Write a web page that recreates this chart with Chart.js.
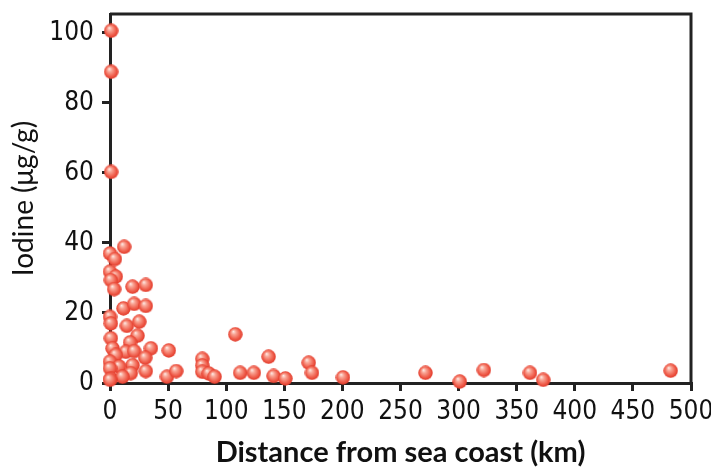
<!DOCTYPE html>
<html>
<head>
<meta charset="utf-8">
<script src="https://cdn.jsdelivr.net/npm/chart.js@4/dist/chart.umd.min.js"></script>
<style>
  html, body { margin: 0; padding: 0; background: #fff; }
  #chart { display: block; }
</style>
</head>
<body>
<canvas id="chart" width="711" height="468"></canvas>
<script>
// Distance from sea coast (km) and iodine (µg/g), one entry per sample
const distanceKm = [
  1, 1, 1, 12.2, 0, 4.2, 0, 5, 0.7, 3.6, 19.4, 30.8, 11.6, 20.8, 30.8,
  0, 0.7, 14.5, 25.2, 0.7, 23.7, 17.3, 2.2, 13.6, 20.8, 35.2, 5, 30.3,
  0, 19.4, 7.9, 0, 30.8, 17.9, 0.7, 10.8, 0, 50.6, 49, 57, 79.4, 79.4,
  79.4, 85, 90, 107.8, 112, 123.8, 136.5, 140.8, 150.9, 171, 173.8,
  200.5, 271.5, 301, 321.7, 361.4, 372.8, 482.5
];
const iodine = [
  100.6, 88.9, 60.3, 38.9, 37.0, 35.4, 31.8, 30.4, 29.4, 26.8, 27.5, 28.0, 21.3, 22.6, 22.0,
  18.9, 17.0, 16.3, 17.5, 12.8, 13.5, 11.6, 9.9, 8.9, 9.1, 9.9, 8.0, 7.2,
  6.1, 5.1, 4.7, 4.2, 3.4, 2.8, 1.3, 1.8, 0.9, 9.3, 1.8, 3.4, 6.9, 5.0,
  3.2, 2.7, 1.8, 13.9, 2.9, 2.9, 7.5, 2.0, 1.3, 5.8, 2.9,
  1.6, 2.9, 0.4, 3.7, 2.9, 0.9, 3.5
];
const xTicks = [0, 50, 100, 150, 200, 250, 300, 350, 400, 450, 500];
const yTicks = [0, 20, 40, 60, 80, 100];

const points = distanceKm.map((d, i) => ({ x: d, y: iodine[i] }));

// shaded red ball used as the marker
function makeBall(size) {
  const c = document.createElement('canvas');
  c.width = size; c.height = size;
  const g = c.getContext('2d');
  const r = size / 2;
  const grad = g.createRadialGradient(r * 0.72, r * 0.6, 0, r, r, r);
  grad.addColorStop(0, '#fff2ee');
  grad.addColorStop(0.3, '#f9a595');
  grad.addColorStop(0.7, '#f0604e');
  grad.addColorStop(1, '#e03424');
  g.fillStyle = grad;
  g.beginPath();
  g.arc(r, r, r - 0.3, 0, Math.PI * 2);
  g.fill();
  return c;
}
const ball = makeBall(15);

const axisColor = '#222';
const tickFont = { family: "'DejaVu Sans Condensed', Lato", size: 26 };

// closes the frame on top and right
const frame = {
  id: 'frame',
  afterDraw(chart) {
    const { ctx, chartArea: a } = chart;
    ctx.save();
    ctx.strokeStyle = axisColor;
    ctx.lineWidth = 3;
    ctx.beginPath();
    ctx.moveTo(a.left, a.top);
    ctx.lineTo(a.right, a.top);
    ctx.lineTo(a.right, a.bottom);
    ctx.stroke();
    ctx.restore();
  }
};

new Chart(document.getElementById('chart').getContext('2d'), {
  type: 'scatter',
  data: {
    datasets: [{
      data: points,
      pointStyle: ball,
      pointRadius: 7.5,
      pointHoverRadius: 7.5,
      clip: false
    }]
  },
  options: {
    responsive: false,
    animation: false,
    layout: { padding: { top: 14, right: 20, left: 0, bottom: 0 } },
    plugins: { legend: { display: false }, tooltip: { enabled: false } },
    scales: {
      x: {
        type: 'linear',
        min: 0,
        max: 500,
        afterBuildTicks: s => { s.ticks = xTicks.map(v => ({ value: v })); },
        afterFit: s => { s.height = 85; s.paddingLeft = 0; s.paddingRight = 0; },
        border: { display: true, color: axisColor, width: 3 },
        grid: { drawOnChartArea: false, drawTicks: true, tickLength: 8, color: axisColor, lineWidth: 3 },
        ticks: { color: '#111', padding: 6, maxRotation: 0, font: tickFont },
        title: {
          display: true,
          text: 'Distance from sea coast (km)',
          color: '#111',
          font: { family: 'Lato', size: 29, weight: 'bold' },
          padding: { top: 0, bottom: -2 }
        }
      },
      y: {
        type: 'linear',
        min: 0,
        max: 105.4,
        afterBuildTicks: s => { s.ticks = yTicks.map(v => ({ value: v })); },
        afterFit: s => { s.width = 110; s.paddingTop = 0; s.paddingBottom = 0; },
        border: { display: true, color: axisColor, width: 3 },
        grid: { drawOnChartArea: false, drawTicks: true, tickLength: 8, color: axisColor, lineWidth: 3 },
        ticks: { color: '#111', padding: 8, font: tickFont },
        title: {
          display: true,
          text: 'Iodine (μg/g)',
          color: '#111',
          font: { family: 'Lato', size: 28 },
          padding: { top: 7, bottom: 0 }
        }
      }
    }
  },
  plugins: [frame]
});
</script>
</body>
</html>
